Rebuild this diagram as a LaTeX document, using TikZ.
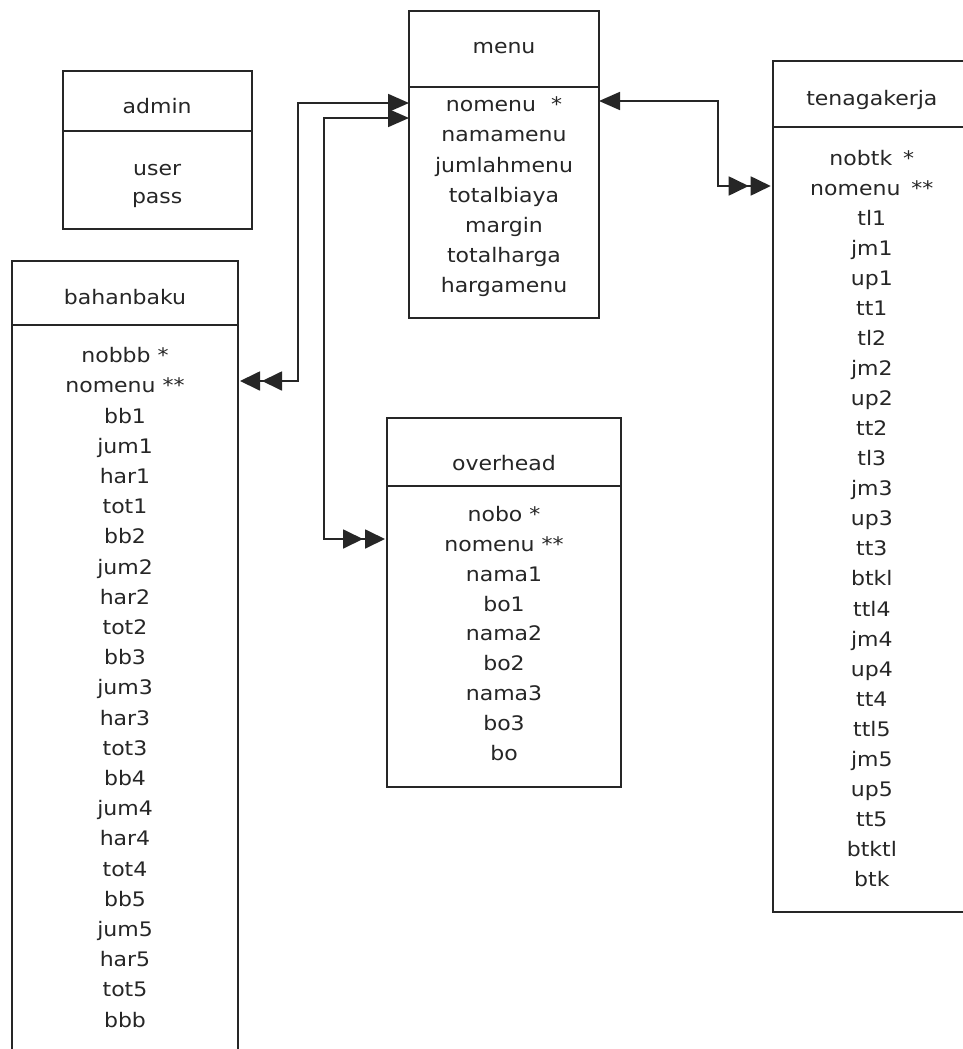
\documentclass[tikz,border=0pt]{standalone}
\usepackage{fontspec}
\setmainfont{DejaVu Sans}[FakeStretch=1.1]
\usetikzlibrary{arrows.meta}
\definecolor{ink}{HTML}{262626}
\begin{document}
\begin{tikzpicture}[x=1pt,y=-1pt,
  tbl/.style={draw=ink, line width=1.8pt, rectangle, inner sep=0pt, outer sep=0pt},
  sepline/.style={draw=ink, line width=1.8pt},
  attr/.style={anchor=base, inner sep=0pt, text=ink, font=\fontsize{20}{24}\selectfont},
  conn/.style={draw=ink, line width=1.8pt,
    {Triangle[length=21pt,width=18pt]}-{Triangle[length=20pt,width=19pt,sep=2pt]Triangle[length=20pt,width=19pt,sep=2pt]}}
]
\useasboundingbox (0,0) rectangle (963,1049);
\fill[white] (0,0) rectangle (963,1049);
\clip (0,0) rectangle (963,1049);

% admin
\node[tbl, minimum width=189pt, minimum height=158.3pt] (admin) at (157.2,150.2) {};
\draw[sepline] (admin.west |- 0,130.7) -- (admin.east |- 0,130.7);
\node[attr] (admin-t) at (157.2,113.3) {admin};
\node[attr] (admin-1) at (157.2,175) {user};
\node[attr] (admin-2) at (157.2,203.3) {pass};

% menu
\node[tbl, minimum width=190pt, minimum height=307pt] (menu) at (504,164.5) {};
\draw[sepline] (menu.west |- 0,87) -- (menu.east |- 0,87);
\node[attr] (menu-t) at (504,53.3) {menu};
\foreach \t [count=\i] in {nomenu\hspace{15pt}*, namamenu, jumlahmenu, totalbiaya, margin, totalharga, hargamenu}
  \node[attr] (menu-\i) at (504,{111.7+(\i-1)*30.15}) {\t};

% tenagakerja
\node[tbl, minimum width=198.3pt, minimum height=850.7pt] (tena) at (871.85,486.35) {};
\draw[sepline] (tena.west |- 0,127) -- (tena.east |- 0,127);
\node[attr] (tena-t) at (871.85,105) {tenagakerja};
\foreach \t [count=\i] in {nobtk\hspace{11pt}*, nomenu\hspace{11pt}**, tl1, jm1, up1, tt1, tl2, jm2, up2, tt2, tl3, jm3, up3, tt3, btkl, ttl4, jm4, up4, tt4, ttl5, jm5, up5, tt5, btktl, btk}
  \node[attr] (tena-\i) at (871.85,{165+(\i-1)*30.07}) {\t};

% bahanbaku
\node[tbl, minimum width=226pt, minimum height=799pt] (bahan) at (125,660.5) {};
\draw[sepline] (bahan.west |- 0,325) -- (bahan.east |- 0,325);
\node[attr] (bahan-t) at (125,304) {bahanbaku};
\foreach \t [count=\i] in {nobbb *, nomenu **, bb1, jum1, har1, tot1, bb2, jum2, har2, tot2, bb3, jum3, har3, tot3, bb4, jum4, har4, tot4, bb5, jum5, har5, tot5, bbb}
  \node[attr] (bahan-\i) at (125,{362.7+(\i-1)*30.2}) {\t};

% overhead
\node[tbl, minimum width=234pt, minimum height=369pt] (over) at (504,602.5) {};
\draw[sepline] (over.west |- 0,486) -- (over.east |- 0,486);
\node[attr] (over-t) at (504,470) {overhead};
\foreach \t [count=\i] in {nobo *, nomenu **, nama1, bo1, nama2, bo2, nama3, bo3, bo}
  \node[attr] (over-\i) at (504,{521.7+(\i-1)*29.8}) {\t};

% connectors
\draw[conn] (menu.west |- 0,103) -- (298,103) -- (298,381) -- (bahan.east |- 0,381);
\draw[conn] (menu.west |- 0,118) -- (324,118) -- (324,539) -- (over.west |- 0,539);
\draw[conn] (menu.east |- 0,101) -- (718,101) -- (718,186) -- (tena.west |- 0,186);
\end{tikzpicture}
\end{document}
